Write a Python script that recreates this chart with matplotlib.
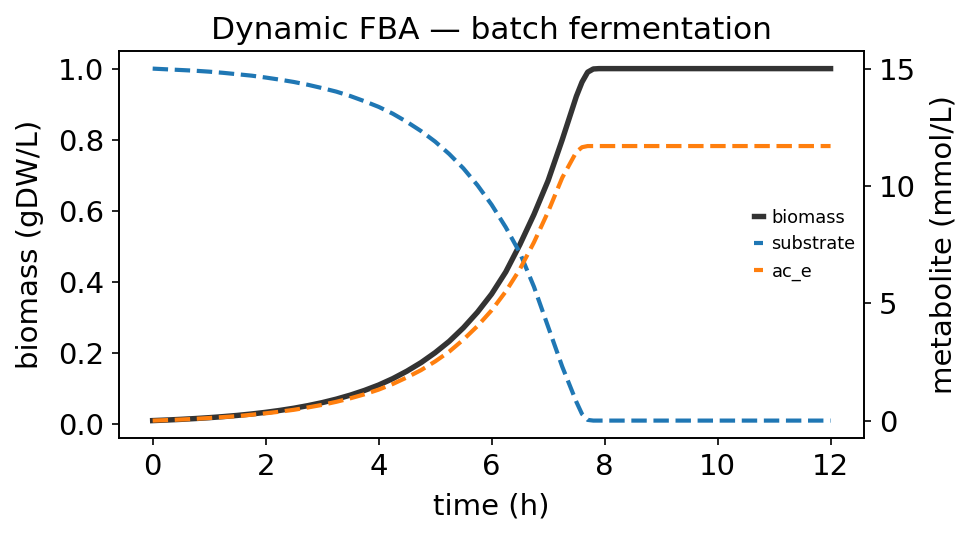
import matplotlib
matplotlib.use("Agg")
import matplotlib.pyplot as plt

# values (time in h)
time_h = [0, 0.25, 0.5, 0.75, 1, 1.25, 1.5, 1.75, 2, 2.25, 2.5, 2.75, 3,
          3.25, 3.5, 3.75, 4, 4.25, 4.5, 4.75, 5, 5.25, 5.5, 5.75, 6, 6.25,
          6.5, 6.75, 7, 7.25, 7.5, 7.6, 7.7, 7.8, 7.9, 8, 9, 10, 11, 12]
biomass = [0.0100, 0.0116, 0.0135, 0.0157, 0.0182, 0.0212, 0.0246, 0.0286,
           0.0332, 0.0386, 0.0448, 0.0521, 0.0605, 0.0703, 0.0817, 0.0949,
           0.110, 0.128, 0.149, 0.173, 0.201, 0.233, 0.271, 0.315, 0.366,
           0.428, 0.505, 0.590, 0.685, 0.80, 0.922, 0.962, 0.990, 0.999,
           1.0, 1.0, 1.0, 1.0, 1.0, 1.0]
substrate = [15.0, 14.97, 14.94, 14.91, 14.87, 14.82, 14.76, 14.70, 14.62,
             14.53, 14.43, 14.31, 14.17, 14.02, 13.83, 13.61, 13.37, 13.08,
             12.73, 12.34, 11.89, 11.36, 10.75, 10.03, 9.20, 8.24, 7.15,
             5.70, 4.0, 2.3, 0.8, 0.28, 0.03, 0.0, 0.0, 0.0, 0.0, 0.0, 0.0,
             0.0]
acetate = [0.0, 0.021, 0.046, 0.075, 0.11, 0.15, 0.19, 0.25, 0.31, 0.38,
           0.46, 0.56, 0.67, 0.80, 0.95, 1.12, 1.32, 1.56, 1.84, 2.15, 2.52,
           2.94, 3.45, 4.03, 4.70, 5.50, 6.45, 7.60, 8.9, 10.35, 11.45,
           11.65, 11.7, 11.7, 11.7, 11.7, 11.7, 11.7, 11.7, 11.7]

plt.rcParams['font.size'] = 14

fig, ax = plt.subplots(figsize=(6.49, 3.58), dpi=150)
ax2 = ax.twinx()

l1, = ax.plot(time_h, biomass, color='#333333', lw=2.6, label='biomass')
l2, = ax2.plot(time_h, substrate, color='tab:blue', ls='--', lw=2, label='substrate')
l3, = ax2.plot(time_h, acetate, color='tab:orange', ls='--', lw=2, label='ac_e')

ax.set_xlabel("time (h)", labelpad=5.5)
ax.set_ylabel("biomass (gDW/L)", labelpad=6.5)
ax2.set_ylabel("metabolite (mmol/L)", labelpad=6.5)
ax.set_title("Dynamic FBA \u2014 batch fermentation", fontsize=15)
ax2.set_yticks([0, 5, 10, 15])

ax.legend(handles=[l1, l2, l3], loc='center right', frameon=False,
          fontsize=8.5, handlelength=0.5, handletextpad=0.5,
          borderaxespad=0.1)

fig.subplots_adjust(left=0.122, right=0.888, top=0.905, bottom=0.184)
fig.savefig("out.png", dpi=150)
